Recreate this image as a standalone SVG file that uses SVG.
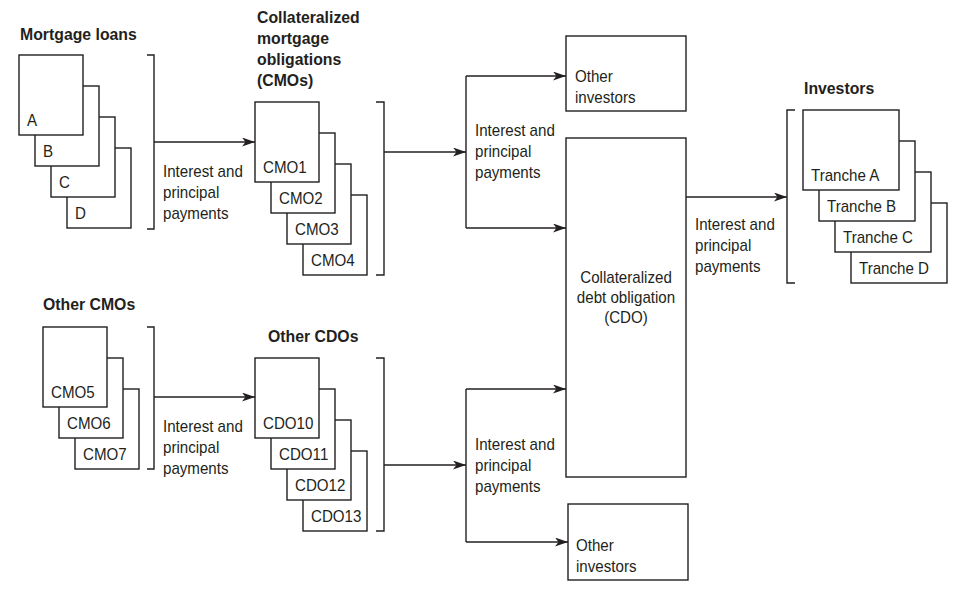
<svg xmlns="http://www.w3.org/2000/svg" width="956" height="610" viewBox="0 0 956 610">
<style>
  .b{fill:#fff;stroke:#231f20;stroke-width:1.4}
  .c{fill:none;stroke:#231f20;stroke-width:1.4}
  .t{font-family:"Liberation Sans",Arial,sans-serif;font-size:17px;fill:#231f20}
  .h{font-family:"Liberation Sans",Arial,sans-serif;font-size:17px;font-weight:bold;fill:#231f20}
  .m{text-anchor:middle}
</style>
<defs>
  <marker id="ah" markerUnits="userSpaceOnUse" markerWidth="14" markerHeight="10" refX="13" refY="4.5" orient="auto">
    <path d="M0,0 L13,4.5 L0,9 L3.5,4.5 Z" fill="#231f20"/>
  </marker>
</defs>
<rect width="956" height="610" fill="#fff"/>

<g id="mortgage-loans">
  <text class="h" transform="translate(20,40) scale(0.93,1)">Mortgage loans</text>
  <rect class="b" x="67" y="148" width="64" height="80"/><text class="t" transform="translate(75,219) scale(0.89,1)">D</text>
  <rect class="b" x="51" y="117" width="64" height="80"/><text class="t" transform="translate(59,188) scale(0.89,1)">C</text>
  <rect class="b" x="35" y="86" width="64" height="80"/><text class="t" transform="translate(43,157) scale(0.89,1)">B</text>
  <rect class="b" x="19" y="55" width="64" height="80"/><text class="t" transform="translate(27,126) scale(0.89,1)">A</text>
</g>

<g id="cmos">
  <text class="h" transform="translate(257,23) scale(0.93,1)">Collateralized</text>
  <text class="h" transform="translate(257,44) scale(0.93,1)">mortgage</text>
  <text class="h" transform="translate(257,65) scale(0.93,1)">obligations</text>
  <text class="h" transform="translate(257,86) scale(0.93,1)">(CMOs)</text>
  <rect class="b" x="303" y="195" width="64" height="80"/><text class="t" transform="translate(311,266) scale(0.89,1)">CMO4</text>
  <rect class="b" x="287" y="164" width="64" height="80"/><text class="t" transform="translate(295,235) scale(0.89,1)">CMO3</text>
  <rect class="b" x="271" y="133" width="64" height="80"/><text class="t" transform="translate(279,204) scale(0.89,1)">CMO2</text>
  <rect class="b" x="255" y="102" width="64" height="80"/><text class="t" transform="translate(263,173) scale(0.89,1)">CMO1</text>
</g>

<g id="other-investors-top">
  <rect class="b" x="566" y="36" width="120" height="75"/>
  <text class="t" transform="translate(575,82) scale(0.89,1)">Other</text>
  <text class="t" transform="translate(575,103) scale(0.89,1)">investors</text>
</g>

<g id="cdo">
  <rect class="b" x="566" y="138" width="120" height="339"/>
  <text class="t m" transform="translate(626,283) scale(0.89,1)">Collateralized</text>
  <text class="t m" transform="translate(626,303) scale(0.89,1)">debt obligation</text>
  <text class="t m" transform="translate(626,323) scale(0.89,1)">(CDO)</text>
</g>

<g id="investors">
  <text class="h" transform="translate(804,94) scale(0.93,1)">Investors</text>
  <rect class="b" x="851" y="203" width="96" height="80"/><text class="t" transform="translate(859,274) scale(0.89,1)">Tranche D</text>
  <rect class="b" x="835" y="172" width="96" height="80"/><text class="t" transform="translate(843,243) scale(0.89,1)">Tranche C</text>
  <rect class="b" x="819" y="141" width="96" height="80"/><text class="t" transform="translate(827,212) scale(0.89,1)">Tranche B</text>
  <rect class="b" x="803" y="110" width="96" height="80"/><text class="t" transform="translate(811,181) scale(0.89,1)">Tranche A</text>
</g>

<g id="other-cmos">
  <text class="h" transform="translate(43,310) scale(0.93,1)">Other CMOs</text>
  <rect class="b" x="75" y="389" width="64" height="80"/><text class="t" transform="translate(83,460) scale(0.89,1)">CMO7</text>
  <rect class="b" x="59" y="358" width="64" height="80"/><text class="t" transform="translate(67,429) scale(0.89,1)">CMO6</text>
  <rect class="b" x="43" y="327" width="64" height="80"/><text class="t" transform="translate(51,398) scale(0.89,1)">CMO5</text>
</g>

<g id="other-cdos">
  <text class="h" transform="translate(268,342) scale(0.93,1)">Other CDOs</text>
  <rect class="b" x="303" y="451" width="64" height="80"/><text class="t" transform="translate(311,522) scale(0.89,1)">CDO13</text>
  <rect class="b" x="287" y="420" width="64" height="80"/><text class="t" transform="translate(295,491) scale(0.89,1)">CDO12</text>
  <rect class="b" x="271" y="389" width="64" height="80"/><text class="t" transform="translate(279,460) scale(0.89,1)">CDO11</text>
  <rect class="b" x="255" y="358" width="64" height="80"/><text class="t" transform="translate(263,429) scale(0.89,1)">CDO10</text>
</g>

<g id="other-investors-bottom">
  <rect class="b" x="568" y="504" width="120" height="76"/>
  <text class="t" transform="translate(576,551) scale(0.89,1)">Other</text>
  <text class="t" transform="translate(576,572) scale(0.89,1)">investors</text>
</g>

<g id="connectors">
  <path class="c" d="M147,55 H154 V229 H147"/>
  <path class="c" d="M154,142 H255" marker-end="url(#ah)"/>
  <text class="t" transform="translate(163,177) scale(0.89,1)">Interest and</text>
  <text class="t" transform="translate(163,198) scale(0.89,1)">principal</text>
  <text class="t" transform="translate(163,219) scale(0.89,1)">payments</text>

  <path class="c" d="M376,102 H384 V275 H376"/>
  <path class="c" d="M384,152 H466" marker-end="url(#ah)"/>
  <path class="c" d="M466,76 V228"/>
  <path class="c" d="M466,76 H566" marker-end="url(#ah)"/>
  <path class="c" d="M466,228 H566" marker-end="url(#ah)"/>
  <text class="t" transform="translate(475,136) scale(0.89,1)">Interest and</text>
  <text class="t" transform="translate(475,157) scale(0.89,1)">principal</text>
  <text class="t" transform="translate(475,178) scale(0.89,1)">payments</text>

  <path class="c" d="M686,197 H787" marker-end="url(#ah)"/>
  <path class="c" d="M795,110 H787 V283 H795"/>
  <text class="t" transform="translate(695,230) scale(0.89,1)">Interest and</text>
  <text class="t" transform="translate(695,251) scale(0.89,1)">principal</text>
  <text class="t" transform="translate(695,272) scale(0.89,1)">payments</text>

  <path class="c" d="M147,327 H154 V469 H147"/>
  <path class="c" d="M154,397 H255" marker-end="url(#ah)"/>
  <text class="t" transform="translate(163,432) scale(0.89,1)">Interest and</text>
  <text class="t" transform="translate(163,453) scale(0.89,1)">principal</text>
  <text class="t" transform="translate(163,474) scale(0.89,1)">payments</text>

  <path class="c" d="M376,358 H384 V531 H376"/>
  <path class="c" d="M384,465 H466" marker-end="url(#ah)"/>
  <path class="c" d="M466,389 V542"/>
  <path class="c" d="M466,389 H566" marker-end="url(#ah)"/>
  <path class="c" d="M466,542 H568" marker-end="url(#ah)"/>
  <text class="t" transform="translate(475,450) scale(0.89,1)">Interest and</text>
  <text class="t" transform="translate(475,471) scale(0.89,1)">principal</text>
  <text class="t" transform="translate(475,492) scale(0.89,1)">payments</text>
</g>
</svg>
